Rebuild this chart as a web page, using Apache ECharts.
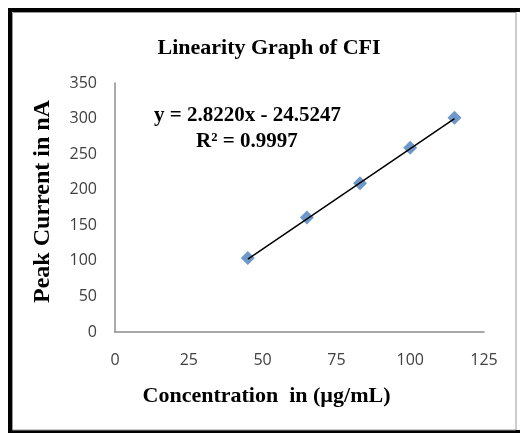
<!DOCTYPE html>
<html>
<head>
<meta charset="utf-8">
<script src="https://cdn.jsdelivr.net/npm/echarts@6/dist/echarts.min.js"></script>
<style>
  html, body { margin: 0; padding: 0; background: #fff; }
  #chart { width: 520px; height: 433px; }
</style>
</head>
<body>
<div id="chart"></div>
<script>
// Linearity data
const concentration = [45, 65, 83, 100, 115]
const peakCurrent = [104, 161, 209, 259, 301]

// Fitted trendline (from the reference equation)
const slope = 2.8220
const intercept = -24.5247
const trendX = [45, 115]

const points = concentration.map((x, i) => [x, peakCurrent[i]])
const trend = trendX.map(x => [x, slope * x + intercept])

const serif = '"Liberation Serif", "DejaVu Serif", serif'
const sans = '"Open Sans", "Liberation Sans", sans-serif'

const chart = echarts.init(document.getElementById('chart'))

chart.setOption({
  backgroundColor: '#fff',
  animation: false,
  title: {
    text: 'Linearity Graph of CFI',
    left: 264,
    top: 32,
    textAlign: 'center',
    textStyle: { fontFamily: serif, fontSize: 22, fontWeight: 'bold', color: '#000' },
  },
  grid: { left: 115, top: 83, right: 36, bottom: 101 },
  xAxis: {
    type: 'value',
    min: 0,
    max: 125,
    interval: 25,
    name: 'Concentration  in (µg/mL)',
    nameLocation: 'middle',
    nameGap: 53,
    nameTextStyle: {
      fontFamily: serif, fontSize: 22, fontWeight: 'bold', color: '#000',
      padding: [0, 66, 0, 0],
    },
    axisLine: { lineStyle: { color: '#8c8c8c', width: 1.5 } },
    axisTick: { show: false },
    splitLine: { show: false },
    axisLabel: { fontFamily: sans, fontSize: 16, color: '#404040', margin: 20 },
  },
  yAxis: {
    type: 'value',
    min: 0,
    max: 350,
    interval: 50,
    name: 'Peak Current in nA',
    nameLocation: 'middle',
    nameGap: 60,
    nameTextStyle: {
      fontFamily: serif, fontSize: 24, fontWeight: 'bold', color: '#000',
      padding: [0, 0, 0, 12],
    },
    axisLine: { show: true, lineStyle: { color: '#8c8c8c', width: 1.5 } },
    axisTick: { show: false },
    splitLine: { show: false },
    axisLabel: { fontFamily: sans, fontSize: 16, color: '#404040', margin: 18 },
  },
  series: [
    {
      type: 'line',
      data: trend,
      symbol: 'none',
      lineStyle: { color: '#000', width: 1.5 },
      z: 3,
    },
    {
      type: 'scatter',
      data: points,
      symbol: 'diamond',
      symbolSize: [14, 14],
      itemStyle: { color: '#4a7ebb' },
      z: 2,
    },
  ],
  graphic: [
    {
      type: 'text',
      left: 154,
      top: 105,
      style: { text: 'y = 2.8220x - 24.5247', font: 'bold 21px ' + serif, fill: '#000' },
    },
    {
      type: 'text',
      left: 196,
      top: 131,
      style: { text: 'R² = 0.9997', font: 'bold 21px ' + serif, fill: '#000' },
    },
    {
      type: 'rect',
      shape: { x: 10, y: 10, width: 530, height: 422 },
      style: { fill: 'none', stroke: '#000', lineWidth: 4 },
      silent: true,
    },
    {
      type: 'rect',
      shape: { x: 12.5, y: 12.5, width: 503.5, height: 417.5 },
      style: { fill: 'none', stroke: '#999', lineWidth: 1 },
      silent: true,
    },
  ],
})
</script>
</body>
</html>
